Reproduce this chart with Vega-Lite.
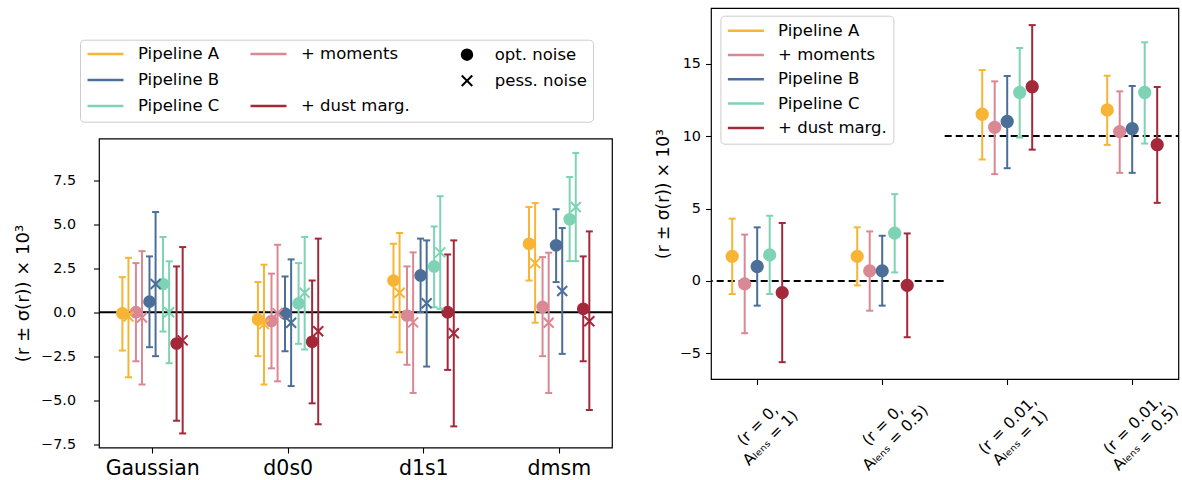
{
 "$schema": "https://vega.github.io/schema/vega-lite/v6.json",
 "padding": {"left": 14, "top": 7, "right": 0, "bottom": 0},
 "config": {
  "font": "DejaVu Sans",
  "view": {"stroke": "black", "strokeWidth": 1.2},
  "axis": {"domain": false, "grid": false, "tickColor": "black", "tickSize": 5.5, "tickWidth": 1.1, "labelColor": "black", "titleColor": "black", "titleFontWeight": "normal"},
  "legend": {"labelColor": "black"}
 },
 "datasets": {
  "left": [
   {"scenario":"Gaussian","pipeline":"Pipeline A","noise":"opt. noise","r":-0.06,"lo":-2.18,"hi":1.99},
   {"scenario":"Gaussian","pipeline":"Pipeline A","noise":"pess. noise","r":-0.25,"lo":-3.70,"hi":3.09},
   {"scenario":"Gaussian","pipeline":"+ moments","noise":"opt. noise","r":0.0,"lo":-2.79,"hi":2.79},
   {"scenario":"Gaussian","pipeline":"+ moments","noise":"pess. noise","r":-0.3,"lo":-4.11,"hi":3.47},
   {"scenario":"Gaussian","pipeline":"Pipeline B","noise":"opt. noise","r":0.6,"lo":-1.99,"hi":3.17},
   {"scenario":"Gaussian","pipeline":"Pipeline B","noise":"pess. noise","r":1.6,"lo":-2.50,"hi":5.69},
   {"scenario":"Gaussian","pipeline":"Pipeline C","noise":"opt. noise","r":1.6,"lo":-1.10,"hi":4.27},
   {"scenario":"Gaussian","pipeline":"Pipeline C","noise":"pess. noise","r":0.0,"lo":-2.90,"hi":2.89},
   {"scenario":"Gaussian","pipeline":"+ dust marg.","noise":"opt. noise","r":-1.78,"lo":-6.17,"hi":2.60},
   {"scenario":"Gaussian","pipeline":"+ dust marg.","noise":"pess. noise","r":-1.6,"lo":-6.89,"hi":3.70},
   {"scenario":"d0s0","pipeline":"Pipeline A","noise":"opt. noise","r":-0.42,"lo":-2.50,"hi":1.71},
   {"scenario":"d0s0","pipeline":"Pipeline A","noise":"pess. noise","r":-0.68,"lo":-4.11,"hi":2.70},
   {"scenario":"d0s0","pipeline":"+ moments","noise":"opt. noise","r":-0.5,"lo":-3.19,"hi":2.19},
   {"scenario":"d0s0","pipeline":"+ moments","noise":"pess. noise","r":-0.06,"lo":-3.93,"hi":3.83},
   {"scenario":"d0s0","pipeline":"Pipeline B","noise":"opt. noise","r":-0.08,"lo":-2.22,"hi":2.03},
   {"scenario":"d0s0","pipeline":"Pipeline B","noise":"pess. noise","r":-0.6,"lo":-4.20,"hi":3.00},
   {"scenario":"d0s0","pipeline":"Pipeline C","noise":"opt. noise","r":0.5,"lo":-1.80,"hi":2.79},
   {"scenario":"d0s0","pipeline":"Pipeline C","noise":"pess. noise","r":1.1,"lo":-2.12,"hi":4.27},
   {"scenario":"d0s0","pipeline":"+ dust marg.","noise":"opt. noise","r":-1.68,"lo":-5.18,"hi":1.80},
   {"scenario":"d0s0","pipeline":"+ dust marg.","noise":"pess. noise","r":-1.08,"lo":-6.37,"hi":4.18},
   {"scenario":"d1s1","pipeline":"Pipeline A","noise":"opt. noise","r":1.8,"lo":-0.28,"hi":3.89},
   {"scenario":"d1s1","pipeline":"Pipeline A","noise":"pess. noise","r":1.1,"lo":-2.28,"hi":4.50},
   {"scenario":"d1s1","pipeline":"+ moments","noise":"opt. noise","r":-0.19,"lo":-2.99,"hi":2.60},
   {"scenario":"d1s1","pipeline":"+ moments","noise":"pess. noise","r":-0.58,"lo":-4.59,"hi":3.40},
   {"scenario":"d1s1","pipeline":"Pipeline B","noise":"opt. noise","r":2.09,"lo":0.0,"hi":4.18},
   {"scenario":"d1s1","pipeline":"Pipeline B","noise":"pess. noise","r":0.51,"lo":-3.09,"hi":4.08},
   {"scenario":"d1s1","pipeline":"Pipeline C","noise":"opt. noise","r":2.6,"lo":0.28,"hi":4.87},
   {"scenario":"d1s1","pipeline":"Pipeline C","noise":"pess. noise","r":3.4,"lo":0.19,"hi":6.59},
   {"scenario":"d1s1","pipeline":"+ dust marg.","noise":"opt. noise","r":0.0,"lo":-3.28,"hi":3.28},
   {"scenario":"d1s1","pipeline":"+ dust marg.","noise":"pess. noise","r":-1.2,"lo":-6.49,"hi":4.08},
   {"scenario":"dmsm","pipeline":"Pipeline A","noise":"opt. noise","r":3.89,"lo":1.80,"hi":5.98},
   {"scenario":"dmsm","pipeline":"Pipeline A","noise":"pess. noise","r":2.79,"lo":-0.60,"hi":6.20},
   {"scenario":"dmsm","pipeline":"+ moments","noise":"opt. noise","r":0.3,"lo":-2.50,"hi":3.13},
   {"scenario":"dmsm","pipeline":"+ moments","noise":"pess. noise","r":-0.6,"lo":-4.59,"hi":3.38},
   {"scenario":"dmsm","pipeline":"Pipeline B","noise":"opt. noise","r":3.8,"lo":1.71,"hi":5.85},
   {"scenario":"dmsm","pipeline":"Pipeline B","noise":"pess. noise","r":1.2,"lo":-2.37,"hi":4.78},
   {"scenario":"dmsm","pipeline":"Pipeline C","noise":"opt. noise","r":5.28,"lo":2.90,"hi":7.68},
   {"scenario":"dmsm","pipeline":"Pipeline C","noise":"pess. noise","r":5.98,"lo":2.90,"hi":9.05},
   {"scenario":"dmsm","pipeline":"+ dust marg.","noise":"opt. noise","r":0.19,"lo":-2.79,"hi":3.17},
   {"scenario":"dmsm","pipeline":"+ dust marg.","noise":"pess. noise","r":-0.52,"lo":-5.56,"hi":4.59}
  ],
  "zero": [{"r_true": 0}],
  "right": [
   {"scenario":"(r = 0,\nAₗₑₙₛ = 1)","pipeline":"Pipeline A","r":1.7,"lo":-0.9,"hi":4.3},
   {"scenario":"(r = 0,\nAₗₑₙₛ = 1)","pipeline":"+ moments","r":-0.2,"lo":-3.6,"hi":3.2},
   {"scenario":"(r = 0,\nAₗₑₙₛ = 1)","pipeline":"Pipeline B","r":1.0,"lo":-1.7,"hi":3.7},
   {"scenario":"(r = 0,\nAₗₑₙₛ = 1)","pipeline":"Pipeline C","r":1.8,"lo":-0.9,"hi":4.5},
   {"scenario":"(r = 0,\nAₗₑₙₛ = 1)","pipeline":"+ dust marg.","r":-0.8,"lo":-5.6,"hi":4.0},
   {"scenario":"(r = 0,\nAₗₑₙₛ = 0.5)","pipeline":"Pipeline A","r":1.7,"lo":-0.3,"hi":3.7},
   {"scenario":"(r = 0,\nAₗₑₙₛ = 0.5)","pipeline":"+ moments","r":0.7,"lo":-2.05,"hi":3.42},
   {"scenario":"(r = 0,\nAₗₑₙₛ = 0.5)","pipeline":"Pipeline B","r":0.7,"lo":-1.7,"hi":3.12},
   {"scenario":"(r = 0,\nAₗₑₙₛ = 0.5)","pipeline":"Pipeline C","r":3.3,"lo":0.59,"hi":5.99},
   {"scenario":"(r = 0,\nAₗₑₙₛ = 0.5)","pipeline":"+ dust marg.","r":-0.3,"lo":-3.88,"hi":3.28},
   {"scenario":"(r = 0.01,\nAₗₑₙₛ = 1)","pipeline":"Pipeline A","r":11.5,"lo":8.38,"hi":14.55},
   {"scenario":"(r = 0.01,\nAₗₑₙₛ = 1)","pipeline":"+ moments","r":10.6,"lo":7.37,"hi":13.77},
   {"scenario":"(r = 0.01,\nAₗₑₙₛ = 1)","pipeline":"Pipeline B","r":11.0,"lo":7.78,"hi":14.14},
   {"scenario":"(r = 0.01,\nAₗₑₙₛ = 1)","pipeline":"Pipeline C","r":13.0,"lo":9.89,"hi":16.07},
   {"scenario":"(r = 0.01,\nAₗₑₙₛ = 1)","pipeline":"+ dust marg.","r":13.4,"lo":9.06,"hi":17.65},
   {"scenario":"(r = 0.01,\nAₗₑₙₛ = 0.5)","pipeline":"Pipeline A","r":11.8,"lo":9.39,"hi":14.16},
   {"scenario":"(r = 0.01,\nAₗₑₙₛ = 0.5)","pipeline":"+ moments","r":10.3,"lo":7.46,"hi":13.08},
   {"scenario":"(r = 0.01,\nAₗₑₙₛ = 0.5)","pipeline":"Pipeline B","r":10.5,"lo":7.46,"hi":13.45},
   {"scenario":"(r = 0.01,\nAₗₑₙₛ = 0.5)","pipeline":"Pipeline C","r":13.0,"lo":9.48,"hi":16.46},
   {"scenario":"(r = 0.01,\nAₗₑₙₛ = 0.5)","pipeline":"+ dust marg.","r":9.4,"lo":5.39,"hi":13.38}
  ],
  "truth": [
   {"from":"(r = 0,\nAₗₑₙₛ = 1)","to":"(r = 0,\nAₗₑₙₛ = 0.5)","r_true":0},
   {"from":"(r = 0.01,\nAₗₑₙₛ = 1)","to":"(r = 0.01,\nAₗₑₙₛ = 0.5)","r_true":10}
  ]
 },
 "spacing": 39,
 "resolve": {"scale": {"x": "independent", "y": "independent", "color": "independent", "xOffset": "independent", "shape": "independent", "fill": "independent"}, "legend": {"color": "independent", "shape": "independent"}},
 "hconcat": [
  {
   "spacing": 14.5,
   "resolve": {"scale": {"x": "independent", "y": "independent", "color": "independent", "xOffset": "independent", "shape": "independent", "fill": "independent"}, "legend": {"color": "independent", "shape": "independent"}},
   "vconcat": [
    {
     "width": 513, "height": 1,
     "view": {"stroke": null},
     "data": {"name": "left"},
     "transform": [{"filter": "false"}],
     "mark": {"type": "point", "filled": false, "opacity": 1, "size": 110, "strokeWidth": 2},
     "encoding": {
      "color": {"field": "pipeline", "type": "nominal", "scale": {"domain": ["Pipeline A", "Pipeline B", "Pipeline C", "+ moments", " ", "+ dust marg."], "range": ["#F8B535", "#4B6F98", "#7ED3B4", "#DA8894", "transparent", "#A3283A"]}, "legend": {"orient": "none", "legendX": -13, "legendY": 37, "columns": 2, "symbolType": "stroke", "symbolSize": 1296, "symbolStrokeWidth": 2.5, "labelFontSize": 16.5, "labelOffset": 13, "labelLimit": 400, "columnPadding": 29, "rowPadding": 8, "clipHeight": 18, "padding": 0, "title": null}},
      "fill": {"field": "pipeline", "type": "nominal", "scale": {"domain": ["Pipeline A", "Pipeline B", "Pipeline C", "+ moments", " ", "+ dust marg."], "range": ["#F8B535", "#4B6F98", "#7ED3B4", "#DA8894", "transparent", "#A3283A"]}, "legend": null},
      "shape": {"field": "noise", "type": "nominal", "scale": {"domain": ["opt. noise", "pess. noise", " "], "range": ["circle", "M-1,-1L1,1M-1,1L1,-1", "M0,0"]}, "legend": {"orient": "none", "legendX": -19, "legendY": 31.7, "title": null, "symbolSize": 110, "symbolFillColor": "black", "symbolStrokeColor": "black", "symbolStrokeWidth": 2, "symbolOpacity": 1, "symbolOffset": 372.75, "labelOffset": 19.5, "labelFontSize": 16.5, "labelLimit": 400, "clipHeight": 18, "rowPadding": 8, "padding": 6, "strokeColor": "#cccccc", "cornerRadius": 4}}
     }
    },
    {
     "width": 513, "height": 309,
     "resolve": {"scale": {"xOffset": "independent"}, "axis": {"x": "independent"}},
     "layer": [
      {
       "data": {"name": "zero"},
       "mark": {"type": "rule", "color": "black", "strokeWidth": 2},
       "encoding": {
        "y": {"field": "r_true", "type": "quantitative", "scale": {"domain": [-7.69, 9.87], "nice": false, "zero": false}, "axis": {"values": [-7.5, -5, -2.5, 0, 2.5, 5, 7.5], "format": ".1f", "labelFontSize": 14.3, "labelPadding": 18, "titleFontSize": 18, "titlePadding": 8}, "title": "(r ± σ(r)) × 10³"}
       }
      },
      {
       "data": {"name": "left"},
       "transform": [{"filter": "datum.noise == 'opt. noise'"}],
       "encoding": {
        "x": {"field": "scenario", "type": "nominal", "scale": {"type": "point", "domain": ["Gaussian", "d0s0", "d1s1", "dmsm"], "padding": 0.3923}, "axis": {"labelFontSize": 20.5, "labelAngle": 0, "labelPadding": 5}, "title": null},
        "xOffset": {"field": "pipeline", "type": "nominal", "scale": {"type": "point", "domain": ["Pipeline A", "+ moments", "Pipeline B", "Pipeline C", "+ dust marg."], "range": [-29.8, 24.4], "padding": 0}},
        "color": {"field": "pipeline", "type": "nominal", "scale": {"domain": ["Pipeline A", "Pipeline B", "Pipeline C", "+ moments", "+ dust marg."], "range": ["#F8B535", "#4B6F98", "#7ED3B4", "#DA8894", "#A3283A"]}, "legend": null}
       },
       "layer": [
        {"mark": {"type": "rule", "strokeWidth": 2, "opacity": 1}, "encoding": {"y": {"field": "lo", "type": "quantitative", "scale": {"domain": [-7.69, 9.87], "nice": false, "zero": false}, "title": "(r ± σ(r)) × 10³"}, "y2": {"field": "hi"}}},
        {"mark": {"type": "tick", "thickness": 2, "size": 7, "opacity": 1}, "encoding": {"y": {"field": "lo", "type": "quantitative", "scale": {"domain": [-7.69, 9.87], "nice": false, "zero": false}, "title": "(r ± σ(r)) × 10³"}}},
        {"mark": {"type": "tick", "thickness": 2, "size": 7, "opacity": 1}, "encoding": {"y": {"field": "hi", "type": "quantitative", "scale": {"domain": [-7.69, 9.87], "nice": false, "zero": false}, "title": "(r ± σ(r)) × 10³"}}},
        {"mark": {"type": "point", "filled": true, "opacity": 1, "size": 160, "strokeWidth": 0, "shape": "circle"}, "encoding": {
          "y": {"field": "r", "type": "quantitative", "scale": {"domain": [-7.69, 9.87], "nice": false, "zero": false}, "title": "(r ± σ(r)) × 10³"}
        }}
       ]
      },
      {
       "data": {"name": "left"},
       "transform": [{"filter": "datum.noise == 'pess. noise'"}],
       "encoding": {
        "x": {"field": "scenario", "type": "nominal", "scale": {"type": "point", "domain": ["Gaussian", "d0s0", "d1s1", "dmsm"], "padding": 0.3923}, "axis": null, "title": null},
        "xOffset": {"field": "pipeline", "type": "nominal", "scale": {"type": "point", "domain": ["Pipeline A", "+ moments", "Pipeline B", "Pipeline C", "+ dust marg."], "range": [-23.7, 30.5], "padding": 0}},
        "color": {"field": "pipeline", "type": "nominal", "scale": {"domain": ["Pipeline A", "Pipeline B", "Pipeline C", "+ moments", "+ dust marg."], "range": ["#F8B535", "#4B6F98", "#7ED3B4", "#DA8894", "#A3283A"]}, "legend": null}
       },
       "layer": [
        {"mark": {"type": "rule", "strokeWidth": 2, "opacity": 1}, "encoding": {"y": {"field": "lo", "type": "quantitative", "scale": {"domain": [-7.69, 9.87], "nice": false, "zero": false}, "title": "(r ± σ(r)) × 10³"}, "y2": {"field": "hi"}}},
        {"mark": {"type": "tick", "thickness": 2, "size": 7, "opacity": 1}, "encoding": {"y": {"field": "lo", "type": "quantitative", "scale": {"domain": [-7.69, 9.87], "nice": false, "zero": false}, "title": "(r ± σ(r)) × 10³"}}},
        {"mark": {"type": "tick", "thickness": 2, "size": 7, "opacity": 1}, "encoding": {"y": {"field": "hi", "type": "quantitative", "scale": {"domain": [-7.69, 9.87], "nice": false, "zero": false}, "title": "(r ± σ(r)) × 10³"}}},
        {"mark": {"type": "point", "filled": false, "opacity": 1, "size": 100, "strokeWidth": 2, "shape": "M-1,-1L1,1M-1,1L1,-1"}, "encoding": {
          "y": {"field": "r", "type": "quantitative", "scale": {"domain": [-7.69, 9.87], "nice": false, "zero": false}, "title": "(r ± σ(r)) × 10³"}
        }}
       ]
      }
     ]
    }
   ]
  },
  {
   "width": 467.4, "height": 371,
   "layer": [
    {
     "data": {"name": "truth"},
     "mark": {"type": "rule", "color": "black", "strokeWidth": 2, "strokeDash": [7, 4], "clip": true, "xOffset": -62.5, "x2Offset": 62.5},
     "encoding": {
      "x": {"field": "from", "type": "nominal", "scale": {"type": "point", "domain": ["(r = 0,\nAₗₑₙₛ = 1)", "(r = 0,\nAₗₑₙₛ = 0.5)", "(r = 0.01,\nAₗₑₙₛ = 1)", "(r = 0.01,\nAₗₑₙₛ = 0.5)"], "padding": 0.3696}, "axis": {"labelFontSize": 15.5, "labelAngle": -45, "labelAlign": "center", "labelBaseline": "middle", "labelPadding": 40, "labelLineHeight": 18, "labelExpr": "split(datum.label, '\\n')"}, "title": null},
      "x2": {"field": "to"},
      "y": {"field": "r_true", "type": "quantitative", "scale": {"domain": [-6.76, 18.83], "nice": false, "zero": false}, "axis": {"values": [-5, 0, 5, 10, 15], "labelFontSize": 14.4, "labelPadding": 5, "titleFontSize": 17, "titlePadding": 7}, "title": "(r ± σ(r)) × 10³"}
     }
    },
    {
     "data": {"name": "right"},
     "encoding": {
      "x": {"field": "scenario", "type": "nominal", "scale": {"type": "point", "domain": ["(r = 0,\nAₗₑₙₛ = 1)", "(r = 0,\nAₗₑₙₛ = 0.5)", "(r = 0.01,\nAₗₑₙₛ = 1)", "(r = 0.01,\nAₗₑₙₛ = 0.5)"], "padding": 0.3696}, "title": null},
      "xOffset": {"field": "pipeline", "type": "nominal", "scale": {"type": "point", "domain": ["Pipeline A", "+ moments", "Pipeline B", "Pipeline C", "+ dust marg."], "range": [-25, 25], "padding": 0}},
      "color": {"field": "pipeline", "type": "nominal", "scale": {"domain": ["Pipeline A", "+ moments", "Pipeline B", "Pipeline C", "+ dust marg."], "range": ["#F8B535", "#DA8894", "#4B6F98", "#7ED3B4", "#A3283A"]}, "legend": {"orient": "none", "legendX": 9.4, "legendY": 7.7, "symbolType": "stroke", "symbolSize": 1296, "symbolStrokeWidth": 2.5, "labelFontSize": 16.5, "labelOffset": 12.7, "clipHeight": 18, "rowPadding": 6.3, "padding": 6, "strokeColor": "#cccccc", "cornerRadius": 4, "fillColor": "white", "title": null}}
     },
     "layer": [
      {"mark": {"type": "rule", "strokeWidth": 2, "opacity": 1}, "encoding": {"y": {"field": "lo", "type": "quantitative", "scale": {"domain": [-6.76, 18.83], "nice": false, "zero": false}, "title": "(r ± σ(r)) × 10³"}, "y2": {"field": "hi"}}},
      {"mark": {"type": "tick", "thickness": 2, "size": 7, "opacity": 1}, "encoding": {"y": {"field": "lo", "type": "quantitative", "scale": {"domain": [-6.76, 18.83], "nice": false, "zero": false}, "title": "(r ± σ(r)) × 10³"}}},
      {"mark": {"type": "tick", "thickness": 2, "size": 7, "opacity": 1}, "encoding": {"y": {"field": "hi", "type": "quantitative", "scale": {"domain": [-6.76, 18.83], "nice": false, "zero": false}, "title": "(r ± σ(r)) × 10³"}}},
      {"mark": {"type": "point", "filled": true, "opacity": 1, "size": 177, "strokeWidth": 0}, "encoding": {"y": {"field": "r", "type": "quantitative", "scale": {"domain": [-6.76, 18.83], "nice": false, "zero": false}, "title": "(r ± σ(r)) × 10³"}}}
     ]
    }
   ]
  }
 ]
}
